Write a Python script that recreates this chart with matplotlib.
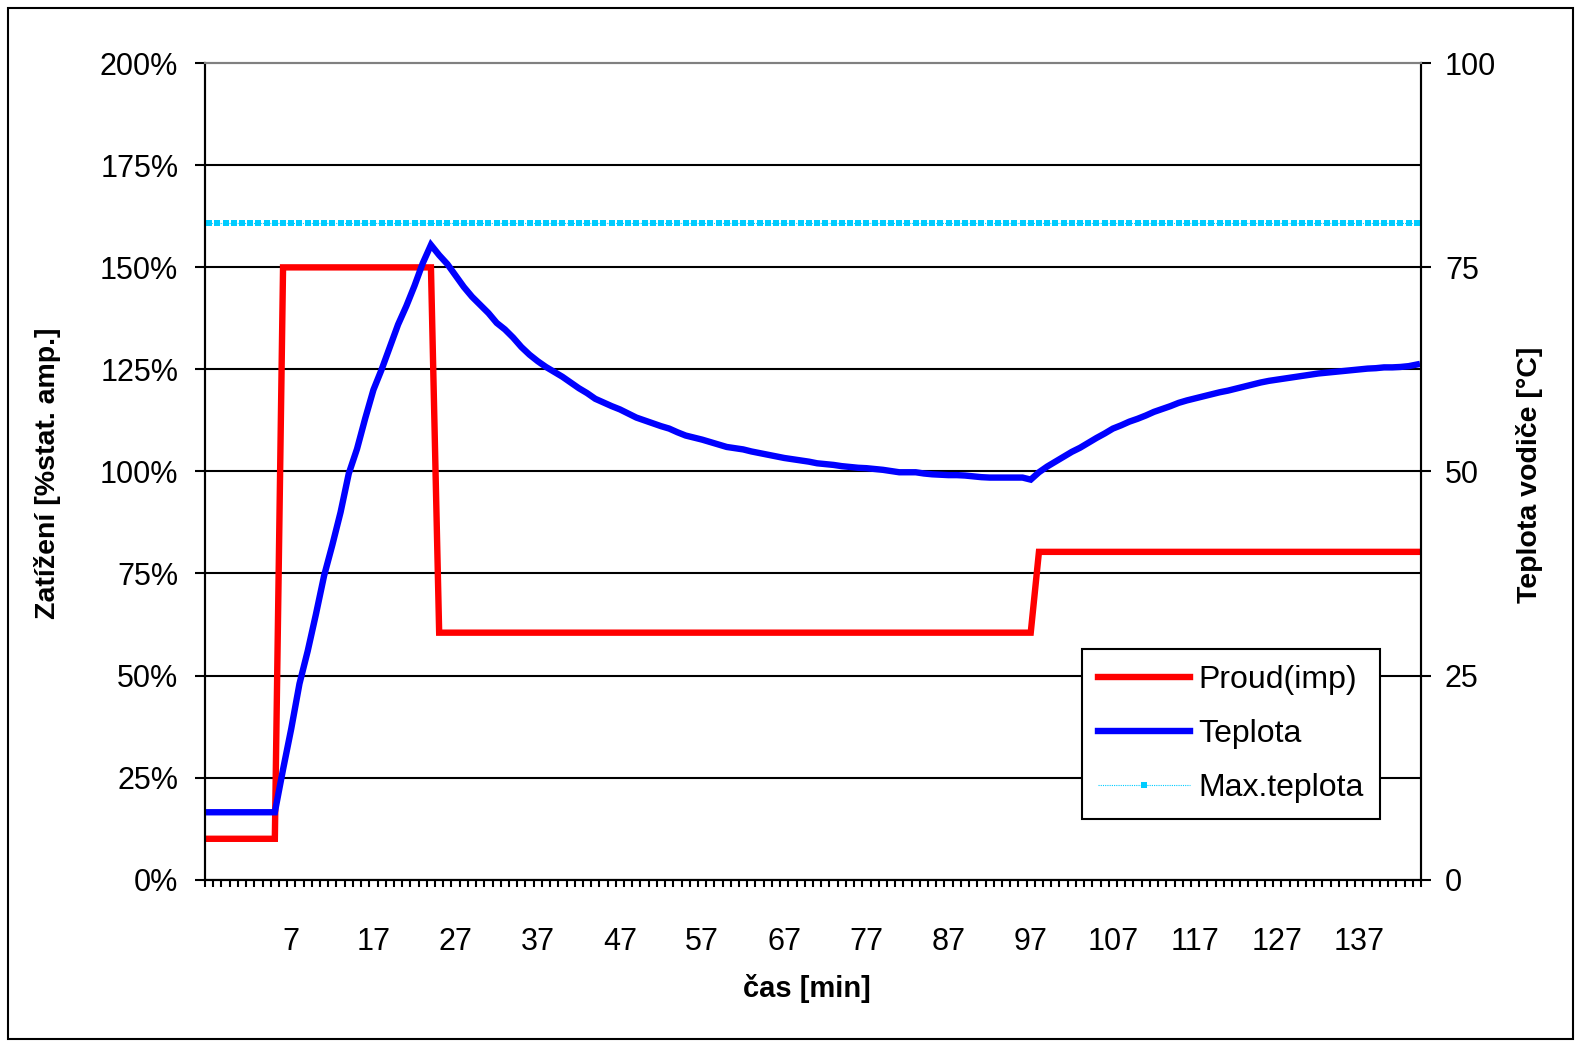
import numpy as np
import matplotlib
matplotlib.use("Agg")
import matplotlib.pyplot as plt
from matplotlib.patches import Rectangle
from matplotlib.ticker import FixedLocator, FuncFormatter

plt.rcParams['font.family'] = ['Liberation Sans', 'DejaVu Sans']

# category axis: time in minutes
cas = list(range(-3, 145))
x_labels = ['7', '17', '27', '37', '47', '57', '67', '77', '87', '97',
            '107', '117', '127', '137']

# load [% of static ampacity], left axis
proud = [10, 10, 10, 10, 10, 10, 10, 10, 10,
         150, 150, 150, 150, 150, 150, 150, 150, 150, 150,
         150, 150, 150, 150, 150, 150, 150, 150, 150,
         60.5, 60.5, 60.5, 60.5, 60.5, 60.5, 60.5, 60.5, 60.5, 60.5,
         60.5, 60.5, 60.5, 60.5, 60.5, 60.5, 60.5, 60.5, 60.5, 60.5,
         60.5, 60.5, 60.5, 60.5, 60.5, 60.5, 60.5, 60.5, 60.5, 60.5,
         60.5, 60.5, 60.5, 60.5, 60.5, 60.5, 60.5, 60.5, 60.5, 60.5,
         60.5, 60.5, 60.5, 60.5, 60.5, 60.5, 60.5, 60.5, 60.5, 60.5,
         60.5, 60.5, 60.5, 60.5, 60.5, 60.5, 60.5, 60.5, 60.5, 60.5,
         60.5, 60.5, 60.5, 60.5, 60.5, 60.5, 60.5, 60.5, 60.5, 60.5,
         60.5, 60.5, 60.5,
         80.3, 80.3, 80.3, 80.3, 80.3, 80.3, 80.3, 80.3, 80.3, 80.3,
         80.3, 80.3, 80.3, 80.3, 80.3, 80.3, 80.3, 80.3, 80.3, 80.3,
         80.3, 80.3, 80.3, 80.3, 80.3, 80.3, 80.3, 80.3, 80.3, 80.3,
         80.3, 80.3, 80.3, 80.3, 80.3, 80.3, 80.3, 80.3, 80.3, 80.3,
         80.3, 80.3, 80.3, 80.3, 80.3, 80.3, 80.3]

# conductor temperature [degC], right axis
teplota = [8.25, 8.25, 8.25, 8.25, 8.25, 8.25, 8.25, 8.25, 8.25,
           13.5, 18.5, 24, 28, 32.5, 37.25, 41, 45, 49.75, 52.75,
           56.5, 60, 62.5, 65.25, 68, 70.25, 72.75, 75.5, 77.75,
           76.5, 75.4, 74, 72.6, 71.4, 70.4, 69.4, 68.2, 67.4, 66.4,
           65.25, 64.3, 63.5, 62.8, 62.2, 61.6, 60.9, 60.2, 59.6, 58.9,
           58.45, 58, 57.6, 57.1, 56.6, 56.25, 55.9, 55.55, 55.25, 54.8,
           54.4, 54.15, 53.9, 53.6, 53.3, 53, 52.85, 52.7, 52.45, 52.25,
           52.05, 51.85, 51.65, 51.5, 51.35, 51.2, 51, 50.9, 50.8, 50.65,
           50.55, 50.45, 50.4, 50.3, 50.2, 50.05, 49.9, 49.9, 49.9, 49.75,
           49.65, 49.6, 49.55, 49.55, 49.5, 49.4, 49.3, 49.25, 49.25, 49.25,
           49.25, 49.25, 49,
           49.9, 50.6, 51.2, 51.8, 52.4, 52.9, 53.5, 54.1, 54.65, 55.25,
           55.65, 56.1, 56.45, 56.85, 57.3, 57.65, 58, 58.4, 58.7, 58.95,
           59.2, 59.45, 59.7, 59.9, 60.15, 60.4, 60.65, 60.9, 61.1, 61.25,
           61.4, 61.55, 61.7, 61.85, 62, 62.1, 62.2, 62.3, 62.4, 62.5,
           62.6, 62.65, 62.75, 62.75, 62.8, 62.9, 63.1]

max_teplota = [80.4] * len(cas)

fig = plt.figure(figsize=(15.81, 10.45), dpi=100)
W, H = 1581, 1045
ax = fig.add_axes([205 / W, 1 - 879.6 / H, 1216 / W, 816.3 / H])
ax2 = ax.twinx()

ax.plot(cas, proud, color='#FF0000', lw=4.6, solid_joinstyle='miter',
        label='Proud(imp)')
l_t, = ax2.plot(cas, teplota, color='#0000FF', lw=4.6, solid_joinstyle='miter',
                label='Teplota')
l_m, = ax2.plot(cas, max_teplota, color='#00CCFF', lw=0.8, ls=(0, (1, 1)),
                marker='s', markersize=4.2, markeredgewidth=0,
                label='Max.teplota')

ax.set_xlim(cas[0] - 0.5, cas[-1] + 0.5)
ax.set_ylim(0, 200)
ax2.set_ylim(0, 100)

ax.set_yticks(np.arange(0, 201, 25))
ax.yaxis.set_major_formatter(FuncFormatter(lambda v, p: f'{v:.0f}%'))
ax2.set_yticks(np.arange(0, 101, 25))

ax.xaxis.set_major_locator(FixedLocator([int(s) for s in x_labels]))
ax.set_xticklabels(x_labels)
ax.xaxis.set_minor_locator(FixedLocator(np.arange(cas[0] - 0.5, cas[-1] + 1, 1)))

ax.grid(axis='y', color='black', lw=1.5)
ax.get_ygridlines()[-1].set_visible(False)
ax.set_axisbelow(True)

for a in (ax, ax2):
    for s in ('left', 'right', 'bottom'):
        a.spines[s].set_color('black')
        a.spines[s].set_linewidth(1.5)
    a.spines['top'].set_color('#808080')
    a.spines['top'].set_linewidth(1.5)

ax.tick_params(axis='y', direction='out', length=7.2, width=1.5, labelsize=22, pad=12)
ax2.tick_params(axis='y', direction='out', length=7.2, width=1.5, labelsize=22, pad=10)
ax.tick_params(axis='x', which='major', length=0, labelsize=22, pad=34)
ax.tick_params(axis='x', which='minor', direction='out', length=5, width=1.5)

fig.text(47.4 / W, 1 - 473.6 / H, 'Zatížení [%stat. amp.]', rotation=90,
         ha='center', va='center', fontsize=20.5, fontweight='bold')
fig.text(1529.6 / W, 1 - 475 / H, 'Teplota vodiče [°C]', rotation=90,
         ha='center', va='center', fontsize=20.5, fontweight='bold')
fig.text(807 / W, 1 - 988.5 / H, 'čas [min]', ha='center', va='center',
         fontsize=21, fontweight='bold')

handles = [ax.get_lines()[0], l_t, l_m]
leg = fig.legend(handles, [h.get_label() for h in handles], loc='upper left',
                 bbox_to_anchor=(1081.7 / W, 1 - 649.3 / H), borderaxespad=0,
                 fontsize=23, handlelength=2.9, handletextpad=0.25,
                 labelspacing=0.75, borderpad=0.5, fancybox=False,
                 framealpha=1, edgecolor='black')
leg.get_frame().set_linewidth(1.5)

fig.patches.append(Rectangle((8 / W, 6 / H), 1565 / W, 1031 / H,
                             transform=fig.transFigure, fill=False,
                             edgecolor='black', lw=1.5))

fig.savefig('out.png', dpi=100)
